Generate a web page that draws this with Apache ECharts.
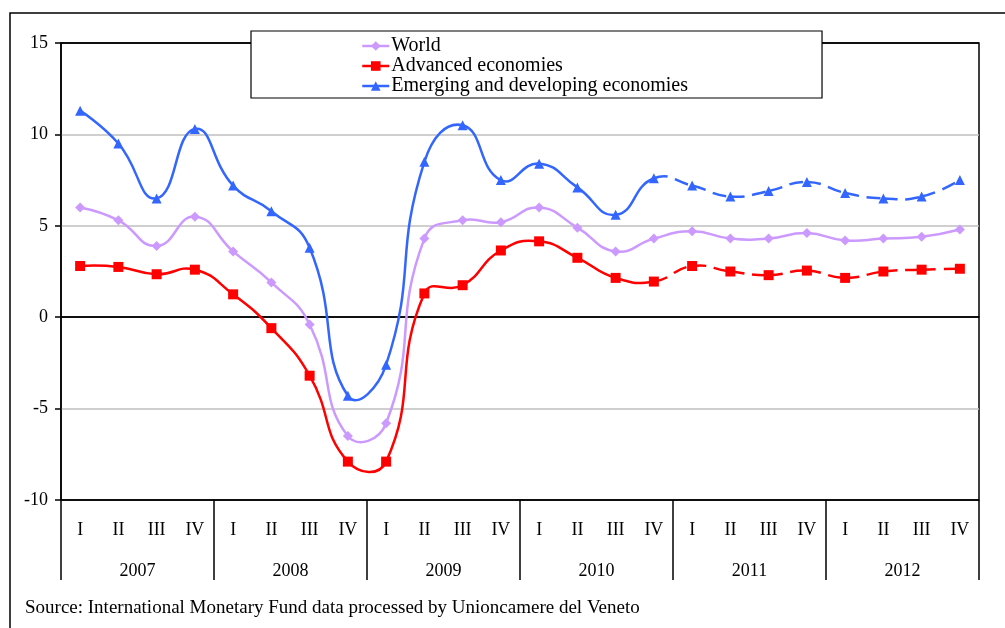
<!DOCTYPE html>
<html>
<head>
<meta charset="utf-8">
<script src="https://cdn.jsdelivr.net/npm/echarts@6/dist/echarts.min.js"></script>
<style>
html,body{margin:0;padding:0;background:#fff;}
#chart{width:1005px;height:628px;}
</style>
</head>
<body>
<div id="chart"></div>
<script>
var quarters = ['I','II','III','IV','I','II','III','IV','I','II','III','IV','I','II','III','IV','I','II','III','IV','I','II','III','IV'];
var years = ['2007','2008','2009','2010','2011','2012'];
var world = [6.0,5.3,3.9,5.5, 3.6,1.9,-0.4,-6.5, -5.8,4.3,5.3,5.2, 6.0,4.9,3.6,4.3, 4.7,4.3,4.3,4.6, 4.2,4.3,4.4,4.8];
var advanced = [2.8,2.75,2.35,2.6, 1.25,-0.6,-3.2,-7.9, -7.9,1.3,1.75,3.65, 4.15,3.25,2.15,1.95, 2.8,2.5,2.3,2.55, 2.15,2.5,2.6,2.65];
var emerging = [11.3,9.5,6.5,10.3, 7.2,5.8,3.8,-4.3, -2.6,8.5,10.5,7.5, 8.4,7.1,5.6,7.6, 7.2,6.6,6.9,7.4, 6.8,6.5,6.6,7.5];
var yTicks = {min:-10, max:15, interval:5};
var lastActual = 15; // 2010 IV: segments after it are forecasts (dashed)

var FONT = 'Liberation Serif';
var cWorld = '#CC99FF', cAdv = '#FF0000', cEm = '#3366FF';
var SMOOTH = 0.5;

function pairs(arr){ return arr.map(function(v,i){ return [i, v]; }); }

// smooth curve segments (unclamped, like spreadsheet smoothing), positioned via the axes
function curveRenderer(arr, color, dashFrom){
  return function(params, api){
    var i = params.dataIndex, n = arr.length;
    if (i >= n - 1) return null;
    function P(k){ return api.coord([k, arr[k]]); }
    function ctrl(prev, cur, next, side){
      if (!prev || !next) return cur.slice();
      var vx = next[0]-prev[0], vy = next[1]-prev[1];
      var d0 = Math.hypot(cur[0]-prev[0], cur[1]-prev[1]);
      var d1 = Math.hypot(next[0]-cur[0], next[1]-cur[1]);
      var r = d1/(d0+d1);
      if (side === 'next') return [cur[0]+vx*SMOOTH*r, cur[1]+vy*SMOOTH*r];
      return [cur[0]-vx*SMOOTH*(1-r), cur[1]-vy*SMOOTH*(1-r)];
    }
    var p0 = i > 0 ? P(i-1) : null, p1 = P(i), p2 = P(i+1), p3 = i+2 < n ? P(i+2) : null;
    var c1 = ctrl(p0, p1, p2, 'next');
    var c2 = ctrl(p1, p2, p3, 'prev');
    return {
      type:'bezierCurve',
      shape:{x1:p1[0], y1:p1[1], x2:p2[0], y2:p2[1], cpx1:c1[0], cpy1:c1[1], cpx2:c2[0], cpy2:c2[1]},
      style:{stroke:color, lineWidth:2.5, fill:null, lineDash: (dashFrom != null && i >= dashFrom) ? [14,8] : null},
      silent:true
    };
  };
}

function markerSeries(name, arr, symbol, size, color, z){
  return {name:name, type:'line', data:arr, symbol:symbol, symbolSize:size, showAllSymbol:true,
    lineStyle:{width:0, opacity:0}, itemStyle:{color:color}, z:z};
}
function curveSeries(name, arr, color, dashFrom, z){
  return {name:name, type:'custom', data:pairs(arr), clip:false, z:z,
    encode:{x:0, y:1}, renderItem:curveRenderer(arr, color, dashFrom)};
}

var chart = echarts.init(document.getElementById('chart'), null, {renderer:'canvas'});
chart.setOption({
  animation:false,
  backgroundColor:'#fff',
  textStyle:{fontFamily:FONT, color:'#000'},
  title:{
    text:'Source: International Monetary Fund data processed by Unioncamere del Veneto',
    left:20, top:594,
    textStyle:{fontFamily:FONT, fontSize:19, fontWeight:'normal', color:'#000'}
  },
  graphic:[{
    type:'rect', shape:{x:10, y:13, width:1010, height:630},
    style:{fill:null, stroke:'#000', lineWidth:1.5}, silent:true, z:-1
  }],
  legend:{
    data:[
      {name:'World', lineStyle:{color:cWorld, width:2.5, opacity:1}},
      {name:'Advanced economies', lineStyle:{color:cAdv, width:2.5, opacity:1}},
      {name:'Emerging and developing economies', lineStyle:{color:cEm, width:2.5, opacity:1}}
    ],
    orient:'vertical', left:251, top:31,
    padding:[5,134,2,110],
    itemGap:0, itemWidth:27, itemHeight:12,
    backgroundColor:'#fff', borderColor:'#000', borderWidth:1.2,
    textStyle:{fontFamily:FONT, fontSize:20, color:'#000', lineHeight:20, padding:[0,0,0,-3]},
    z:10
  },
  grid:{left:61, right:26, top:43, bottom:128, show:true, borderColor:'#000', borderWidth:1.5},
  xAxis:[{
    type:'category', data:quarters, boundaryGap:true,
    axisLine:{show:true, lineStyle:{color:'#000', width:1.5}},
    axisTick:{show:false},
    axisLabel:{interval:0, margin:21, fontFamily:FONT, fontSize:18, color:'#000'},
    splitLine:{show:false}
  },{
    type:'category', data:years, boundaryGap:true, position:'bottom',
    axisLine:{show:false},
    axisTick:{show:true, length:80, lineStyle:{color:'#000', width:1.5}},
    axisLabel:{interval:0, margin:62, fontFamily:FONT, fontSize:18, color:'#000'},
    splitLine:{show:false}
  }],
  yAxis:{
    type:'value', min:yTicks.min, max:yTicks.max, interval:yTicks.interval,
    axisLine:{show:true, lineStyle:{color:'#000', width:1.5}},
    axisTick:{show:true, length:6, lineStyle:{color:'#000', width:1.5}},
    axisLabel:{margin:13, fontFamily:FONT, fontSize:18, color:'#000'},
    splitLine:{show:true, lineStyle:{color:['#000','#BFBFBF','#000','#BFBFBF','#BFBFBF','#000'], width:1.5}}
  },
  series:[
    curveSeries('World curve', world, cWorld, null, 2),
    curveSeries('Advanced curve', advanced, cAdv, lastActual, 3),
    curveSeries('Emerging curve', emerging, cEm, lastActual, 4),
    markerSeries('World', world, 'diamond', 10, cWorld, 5),
    markerSeries('Advanced economies', advanced, 'rect', 10, cAdv, 6),
    markerSeries('Emerging and developing economies', emerging, 'triangle', 10, cEm, 7)
  ]
});
</script>
</body>
</html>
